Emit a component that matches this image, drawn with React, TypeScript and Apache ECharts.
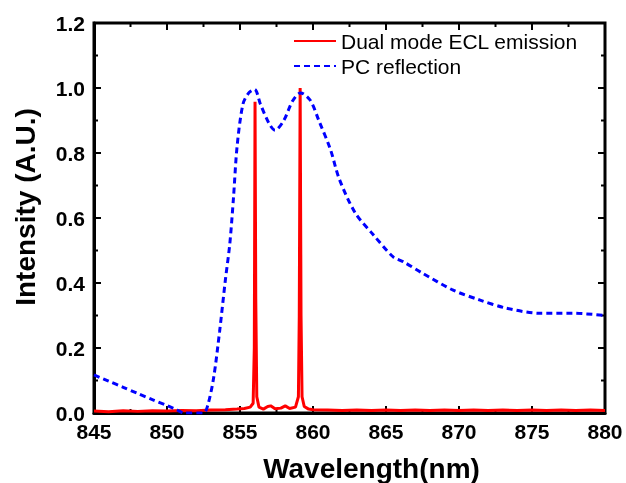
import React, { useEffect, useRef } from "react";
import * as echarts from "echarts";

const xTicks = { min: 845, max: 880, interval: 5 };
const yTicks = { min: 0, max: 1.2, interval: 0.2 };

const seriesNames = ["Dual mode ECL emission", "PC reflection"];

// Frame tick positions (inward ticks on top and right sides)
const xMajorTicks = [845, 850, 855, 860, 865, 870, 875, 880];
const xMinorTicks = [847.5, 852.5, 857.5, 862.5, 867.5, 872.5, 877.5];
const yMajorTicks = [0, 0.2, 0.4, 0.6, 0.8, 1.0, 1.2];
const yMinorTicks = [0.1, 0.3, 0.5, 0.7, 0.9, 1.1];

// Dual mode ECL emission (wavelength nm, intensity)
const eclX = [
  845, 846, 847, 848, 849, 850, 851, 852, 853, 854, 854.8, 855.3, 855.7, 855.9, 855.98, 856.03, 856.08,
  856.15, 856.3, 856.6, 856.9, 857.1, 857.4, 857.8, 858.1, 858.4, 858.8, 859.0, 859.06, 859.12, 859.18,
  859.25, 859.4, 859.7, 860, 861, 862, 863, 864, 865, 866, 867, 868, 869, 870, 871, 872, 873, 874, 875,
  876, 877, 878, 879, 880,
];
const eclY = [
  0.006, 0.004, 0.007, 0.005, 0.007, 0.006, 0.008, 0.007, 0.009, 0.01, 0.012, 0.014, 0.018, 0.03, 0.2,
  0.958, 0.35, 0.05, 0.018, 0.012, 0.02, 0.022, 0.013, 0.015, 0.022, 0.014, 0.018, 0.05, 0.3, 1.0, 0.3,
  0.05, 0.02, 0.012, 0.01, 0.009, 0.008, 0.009, 0.008, 0.009, 0.008, 0.009, 0.008, 0.009, 0.008, 0.009,
  0.008, 0.009, 0.008, 0.009, 0.008, 0.009, 0.008, 0.009, 0.008,
];

// PC reflection
const pcX = [
  845, 846, 847, 848, 849, 850, 850.7, 851.2, 852.5, 852.8, 853.2, 853.6, 854.0, 854.3, 854.55, 854.8,
  855.2, 855.6, 856.0, 856.4, 857.0, 857.4, 858.0, 858.6, 859.15, 859.8, 860.4, 861.2, 861.8, 862.9,
  864.1, 865.5, 866.2, 867.5, 869.6, 871.4, 873.2, 875.5, 877.8, 880,
];
const pcY = [
  0.117, 0.098, 0.079, 0.06, 0.041, 0.023, 0.009, 0.0, 0.0, 0.025, 0.11, 0.25, 0.41, 0.52, 0.66, 0.82,
  0.95, 0.985, 0.996, 0.95, 0.89, 0.87, 0.9, 0.96, 0.985, 0.963, 0.9, 0.81, 0.72, 0.615, 0.55, 0.48,
  0.465, 0.43, 0.378, 0.348, 0.323, 0.307, 0.307, 0.3,
];

const FONT = "Arial, Liberation Sans, sans-serif";

export default function App() {
  const ref = useRef<HTMLDivElement>(null);
  useEffect(() => {
    if (!ref.current) return;
    const chart = echarts.init(ref.current, undefined, { renderer: "svg" });
    const tickData: number[][] = [
      ...xMajorTicks.map((v) => [v, 0, 0]),
      ...xMinorTicks.map((v) => [v, 0, 1]),
      ...yMajorTicks.map((v) => [845, v, 2]),
      ...yMinorTicks.map((v) => [845, v, 3]),
    ];
    chart.setOption({
      animation: false,
      grid: {
        left: 94,
        right: 21,
        top: 23,
        bottom: 70,
        outerBoundsMode: "none",
        show: true,
        borderColor: "#000",
        borderWidth: 3,
      },
      legend: {
        orient: "vertical",
        left: 293,
        top: 30,
        padding: 0,
        itemWidth: 42,
        itemHeight: 14,
        itemGap: 3,
        itemStyle: { opacity: 0 },
        textStyle: { fontFamily: FONT, fontSize: 21, color: "#000", lineHeight: 22 },
        data: seriesNames,
      },
      xAxis: {
        type: "value",
        min: xTicks.min,
        max: xTicks.max,
        interval: xTicks.interval,
        axisLine: { show: true, lineStyle: { color: "#000", width: 3 } },
        axisTick: { show: true, inside: true, length: 7, lineStyle: { color: "#000", width: 2 } },
        splitLine: { show: false },
        axisLabel: { fontFamily: FONT, fontSize: 21, fontWeight: "bold", color: "#000", margin: 8 },
        name: "Wavelength(nm)",
        nameLocation: "middle",
        nameGap: 41,
        nameTextStyle: {
          fontFamily: FONT,
          fontSize: 28,
          fontWeight: "bold",
          color: "#000",
          padding: [0, 0, 0, 44],
        },
      },
      yAxis: {
        type: "value",
        min: yTicks.min,
        max: yTicks.max,
        interval: yTicks.interval,
        axisLine: { show: true, lineStyle: { color: "#000", width: 3 } },
        axisTick: { show: true, inside: true, length: 7, lineStyle: { color: "#000", width: 2 } },
        splitLine: { show: false },
        axisLabel: {
          fontFamily: FONT,
          fontSize: 21,
          fontWeight: "bold",
          color: "#000",
          margin: 9,
          formatter: (v: number) => v.toFixed(1),
        },
        name: "Intensity (A.U.)",
        nameLocation: "middle",
        nameGap: 55,
        nameTextStyle: {
          fontFamily: FONT,
          fontSize: 28,
          fontWeight: "bold",
          color: "#000",
          padding: [0, 0, 0, 22],
        },
      },
      series: [
        {
          name: seriesNames[0],
          type: "line",
          symbol: "none",
          data: eclX.map((x, i) => [x, eclY[i]]),
          lineStyle: { color: "#ff0000", width: 3 },
          itemStyle: { color: "#ff0000" },
        },
        {
          name: seriesNames[1],
          type: "line",
          symbol: "none",
          smooth: 0.3,
          data: pcX.map((x, i) => [x, pcY[i]]),
          lineStyle: { color: "#0000ff", width: 3, type: [6, 4] },
          itemStyle: { color: "#0000ff" },
        },
        {
          name: "frame-ticks",
          type: "custom",
          clip: false,
          silent: true,
          data: tickData,
          renderItem: (params: any, api: any) => {
            const cs = params.coordSys;
            const kind = api.value(2);
            const len = kind === 0 || kind === 2 ? 7 : 4;
            const p = api.coord([api.value(0), api.value(1)]);
            const style = { stroke: "#000", lineWidth: 2 };
            if (kind < 2) {
              const yb = cs.y + cs.height;
              return {
                type: "group",
                children: [
                  { type: "line", shape: { x1: p[0], y1: yb, x2: p[0], y2: yb - len }, style },
                  { type: "line", shape: { x1: p[0], y1: cs.y, x2: p[0], y2: cs.y + len }, style },
                ],
              };
            }
            const xr = cs.x + cs.width;
            return {
              type: "group",
              children: [
                { type: "line", shape: { x1: cs.x, y1: p[1], x2: cs.x + len, y2: p[1] }, style },
                { type: "line", shape: { x1: xr, y1: p[1], x2: xr - len, y2: p[1] }, style },
              ],
            };
          },
        },
      ],
    });
    return () => chart.dispose();
  }, []);
  return <div ref={ref} style={{ width: 626, height: 483, position: "fixed", left: 0, top: 0 }} />;
}
